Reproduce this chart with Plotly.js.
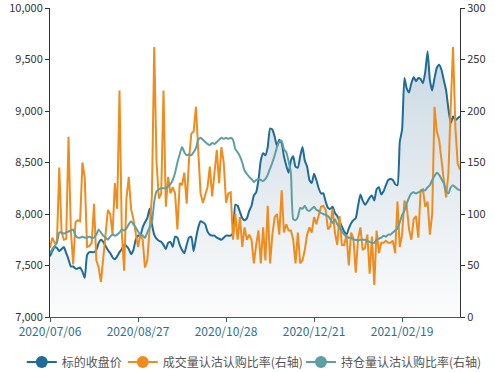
<!DOCTYPE html>
<html>
<head>
<meta charset="utf-8">
<script src="https://cdn.plot.ly/plotly-3.0.1.min.js"></script>
<style>html,body{margin:0;padding:0;background:#fff;}#chart{width:495px;height:372px;}</style>
</head>
<body>
<div id="chart"></div>
<script>
// Trading dates (categories)
const dates = [
"2020/07/06","2020/07/07","2020/07/08","2020/07/09","2020/07/10","2020/07/13","2020/07/14","2020/07/15","2020/07/16","2020/07/17",
"2020/07/20","2020/07/21","2020/07/22","2020/07/23","2020/07/24","2020/07/27","2020/07/28","2020/07/29","2020/07/30","2020/07/31",
"2020/08/03","2020/08/04","2020/08/05","2020/08/06","2020/08/07","2020/08/10","2020/08/11","2020/08/12","2020/08/13","2020/08/14",
"2020/08/17","2020/08/18","2020/08/19","2020/08/20","2020/08/21","2020/08/24","2020/08/25","2020/08/26","2020/08/27","2020/08/28",
"2020/08/31","2020/09/01","2020/09/02","2020/09/03","2020/09/04","2020/09/07","2020/09/08","2020/09/09","2020/09/10","2020/09/11",
"2020/09/14","2020/09/15","2020/09/16","2020/09/17","2020/09/18","2020/09/21","2020/09/22","2020/09/23","2020/09/24","2020/09/25",
"2020/09/28","2020/09/29","2020/09/30","2020/10/09","2020/10/12","2020/10/13","2020/10/14","2020/10/15","2020/10/16","2020/10/19",
"2020/10/20","2020/10/21","2020/10/22","2020/10/23","2020/10/26","2020/10/27","2020/10/28","2020/10/29","2020/10/30","2020/11/02",
"2020/11/03","2020/11/04","2020/11/05","2020/11/06","2020/11/09","2020/11/10","2020/11/11","2020/11/12","2020/11/13","2020/11/16",
"2020/11/17","2020/11/18","2020/11/19","2020/11/20","2020/11/23","2020/11/24","2020/11/25","2020/11/26","2020/11/27","2020/11/30",
"2020/12/01","2020/12/02","2020/12/03","2020/12/04","2020/12/07","2020/12/08","2020/12/09","2020/12/10","2020/12/11","2020/12/14",
"2020/12/15","2020/12/16","2020/12/17","2020/12/18","2020/12/21","2020/12/22","2020/12/23","2020/12/24","2020/12/25","2020/12/28",
"2020/12/29","2020/12/30","2020/12/31","2021/01/04","2021/01/05","2021/01/06","2021/01/07","2021/01/08","2021/01/11","2021/01/12",
"2021/01/13","2021/01/14","2021/01/15","2021/01/18","2021/01/19","2021/01/20","2021/01/21","2021/01/22","2021/01/25","2021/01/26",
"2021/01/27","2021/01/28","2021/01/29","2021/02/01","2021/02/02","2021/02/03","2021/02/04","2021/02/05","2021/02/08","2021/02/09",
"2021/02/10","2021/02/18","2021/02/19","2021/02/22","2021/02/23","2021/02/24","2021/02/25","2021/02/26","2021/03/01","2021/03/02",
"2021/03/03","2021/03/04","2021/03/05","2021/03/08","2021/03/09","2021/03/10","2021/03/11","2021/03/12","2021/03/15","2021/03/16",
"2021/03/17","2021/03/18","2021/03/19","2021/03/22","2021/03/23","2021/03/24","2021/03/25","2021/03/26"
];

// 标的收盘价 (left axis)
const closePrice = [
7590,7640,7680,7670,7640,7660,7680,7620,7560,7490,
7490,7470,7470,7480,7440,7380,7600,7630,7630,7630,
7650,7720,7750,7730,7690,7650,7620,7580,7560,7590,
7630,7660,7700,7690,7660,7610,7650,7750,7790,7790,
7870,7920,7960,8050,7900,7800,7760,7740,7730,7700,
7660,7720,7730,7680,7780,7770,7700,7650,7620,7700,
7770,7780,7640,7760,7870,7930,7920,7900,7830,7800,
7790,7790,7770,7760,7750,7770,7790,7790,7790,7820,
8090,8080,8020,7960,7940,7960,8030,8080,8180,8210,
8330,8520,8590,8570,8650,8830,8820,8750,8660,8720,
8690,8560,8470,8400,8520,8560,8460,8450,8560,8650,
8520,8460,8330,8300,8390,8330,8250,8200,8200,8120,
8060,8050,8070,8010,7980,7930,7880,7830,7800,7860,
7910,7940,7960,8080,8190,8130,8090,8120,8160,8180,
8130,8240,8260,8190,8220,8280,8330,8340,8330,8290,
8280,8700,8820,9320,9220,9180,9270,9330,9290,9320,
9310,9270,9380,9580,9300,9200,9320,9420,9450,9400,
9300,9200,9020,8880,8950,8910,8930,8950
];

// 成交量认沽认购比率 (right axis)
const volumeRatio = [
67,77,72,73,145,82,75,76,175,84,
51,92,94,93,150,135,68,69,72,110,
55,48,34,60,80,104,100,80,130,105,
220,82,45,115,136,105,95,80,68,80,
75,48,55,85,118,262,150,115,120,220,
107,136,120,126,120,85,130,128,140,110,
152,178,180,204,165,120,111,118,126,146,
117,140,162,130,165,150,111,120,121,75,
100,75,97,68,87,75,80,75,52,70,
84,52,87,55,108,52,80,97,100,80,
123,82,90,84,84,75,52,82,52,55,
65,80,87,82,97,90,100,107,108,104,
85,88,105,82,70,98,70,70,80,50,
82,76,43,76,87,65,67,80,42,78,
31,84,62,72,72,74,72,72,74,62,
112,68,80,113,108,85,75,95,98,77,
123,124,107,112,80,100,204,180,172,150,
133,116,140,204,262,184,149,143
];

// 持仓量认沽认购比率 (right axis)
const oiRatio = [
62,66,69,72,82,82,81,82,83,84,
85,79,77,77,78,77,77,78,77,77,
80,85,82,79,77,75,78,80,79,80,
82,85,84,86,90,93,90,87,83,80,
79,77,82,87,92,112,122,124,125,125,
125,127,129,133,140,150,158,165,160,157,
158,157,160,164,172,174,172,170,168,167,
169,168,170,172,174,173,174,173,174,172,
163,160,156,150,142,139,136,134,131,133,
134,133,132,134,138,144,150,157,165,170,
171,163,160,151,140,95,94,97,106,105,
108,104,103,105,107,104,103,101,100,99,
98,95,91,95,90,87,83,80,78,77,
77,75,75,74,75,75,75,74,73,72,
72,75,76,77,79,78,80,80,82,84,
86,92,99,103,110,116,120,121,120,121,
122,123,123,126,128,133,137,140,138,134,
130,122,120,126,128,126,124,123
];

const tickDates = ["2020/07/06","2020/08/27","2020/10/28","2020/12/21","2021/02/19"];
const leftTicks = [7000,7500,8000,8500,9000,9500,10000];
const rightTicks = [0,50,100,150,200,250,300];
const seriesNames = ["标的收盘价","成交量认沽认购比率(右轴)","持仓量认沽认购比率(右轴)"];
const colors = ["#1f6c98","#f08c1e","#5f9fa3"];

const traces = [
  {
    x: dates, y: closePrice, type: 'scatter', mode: 'lines',
    line: {color: colors[0], width: 2, shape: 'spline', smoothing: 0.5},
    fill: 'tozeroy',
    fillgradient: {type: 'vertical', start: 7000, stop: 9600,
      colorscale: [[0, 'rgba(252,252,252,1)'], [1, 'rgba(202,217,227,1)']]},
    showlegend: false, hoverinfo: 'skip'
  },
  {
    x: dates, y: volumeRatio, type: 'scatter', mode: 'lines', yaxis: 'y2',
    line: {color: colors[1], width: 2},
    showlegend: false, hoverinfo: 'skip'
  },
  {
    x: dates, y: oiRatio, type: 'scatter', mode: 'lines', yaxis: 'y2',
    line: {color: colors[2], width: 2, shape: 'spline', smoothing: 0.5},
    showlegend: false, hoverinfo: 'skip'
  }
];
const legendIds = ['legend', 'legend2', 'legend3'];
seriesNames.forEach((n, k) => {
  traces.push({
    x: [null], y: [null], type: 'scatter', mode: 'lines+markers', name: n,
    line: {color: colors[k], width: 2}, marker: {color: colors[k], size: 12},
    yaxis: k === 0 ? 'y' : 'y2', showlegend: true, legend: legendIds[k]
  });
});

function legendAt(xc) {
  return {orientation: 'h', xref: 'container', yref: 'container',
    x: xc, xanchor: 'left', y: 0.066, yanchor: 'top',
    font: {size: 12, color: '#555'}, itemwidth: 30, bgcolor: 'rgba(0,0,0,0)'};
}

const layout = {
  width: 495, height: 372,
  margin: {l: 50, r: 35, t: 8, b: 55, autoexpand: false},
  paper_bgcolor: '#fff', plot_bgcolor: 'rgba(0,0,0,0)',
  font: {family: '"Noto Sans CJK SC", "Noto Sans", sans-serif', size: 11, color: '#333'},
  showlegend: true,
  legend: legendAt(0.044),
  legend2: legendAt(0.248),
  legend3: legendAt(0.608),
  xaxis: {
    type: 'category', range: [0, 177],
    tickmode: 'array', tickvals: tickDates, ticktext: tickDates,
    showgrid: false, zeroline: false,
    showline: true, linecolor: '#2f5f70', linewidth: 1,
    ticks: 'outside', ticklen: 4, tickcolor: '#2f5f70',
    tickfont: {size: 12, color: '#2f6f8f'}
  },
  yaxis: {
    range: [7000, 10000], tickmode: 'array', tickvals: leftTicks,
    ticktext: leftTicks.map(v => v.toLocaleString('en-US')),
    ticklabeloverflow: 'allow',
    showgrid: false, zeroline: false,
    showline: true, linecolor: '#333', linewidth: 1,
    ticks: 'outside', ticklen: 4, tickcolor: '#333',
    tickfont: {size: 11, color: '#333'}
  },
  yaxis2: {
    overlaying: 'y', side: 'right', range: [0, 300], tickmode: 'array', tickvals: rightTicks,
    ticklabeloverflow: 'allow',
    showgrid: false, zeroline: false,
    showline: true, linecolor: '#333', linewidth: 1,
    ticks: 'outside', ticklen: 4, tickcolor: '#333',
    tickfont: {size: 11, color: '#333'}
  }
};

Plotly.newPlot('chart', traces, layout, {staticPlot: true, displayModeBar: false});
</script>
</body>
</html>
